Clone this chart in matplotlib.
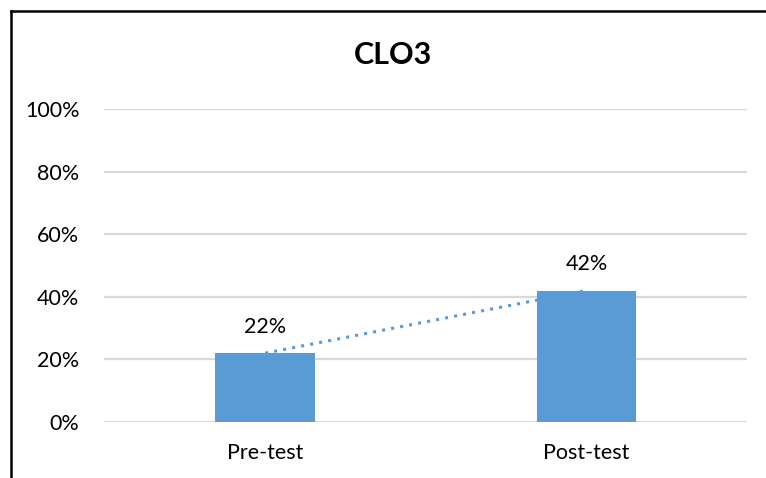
import matplotlib
matplotlib.use("Agg")
import matplotlib.pyplot as plt
from matplotlib.lines import Line2D
from matplotlib.ticker import FuncFormatter

categories = ["Pre-test", "Post-test"]
values = [0.22, 0.42]
yticks = [0, 0.2, 0.4, 0.6, 0.8, 1.0]
title = "CLO3"

W, H = 766, 478
plt.rcParams['font.family'] = ['Lato', 'DejaVu Sans']
fig = plt.figure(figsize=(W/100, H/100), dpi=100)
ax = fig.add_axes([104.5/W, 1 - 422/H, (747-104.5)/W, (422-109)/H])

color = "#5B9BD5"
x = list(range(len(categories)))
ax.bar(x, values, width=0.31, color=color, zorder=3)
ax.plot(x, values, linestyle=(0, (1, 2)), color=color, linewidth=2.2, zorder=4)
for xi, v in zip(x, values):
    ax.annotate(f"{round(v*100)}%", (xi, v), xytext=(0, 19), textcoords="offset points",
                ha="center", va="center", fontsize=15.5, color="#000000")

ax.set_xlim(-0.5, 1.5)
ax.set_ylim(0, 1.0)
ax.set_yticks(yticks)
ax.yaxis.set_major_formatter(FuncFormatter(lambda v, p: f"{round(v*100)}%"))
ax.set_xticks(x)
ax.set_xticklabels(categories)
ax.tick_params(axis="both", length=0, labelsize=15.5, colors="#000000")
ax.tick_params(axis="y", pad=18)
ax.tick_params(axis="x", pad=15)
ax.grid(axis="y", color="#D9D9D9", linewidth=1.6, zorder=0)
ax.set_axisbelow(True)
for s in ax.spines.values():
    s.set_visible(False)

fig.text(393/W, 1 - 55/H, title, ha="center", va="center", fontsize=22, fontweight="bold")

fig.add_artist(Line2D([10.5/W, 10.5/W], [1 - 10.5/H, 0], color="black", linewidth=1.8))
fig.add_artist(Line2D([10.5/W, 1], [1 - 10.5/H, 1 - 10.5/H], color="black", linewidth=1.8))

fig.savefig("out.png", dpi=100)
